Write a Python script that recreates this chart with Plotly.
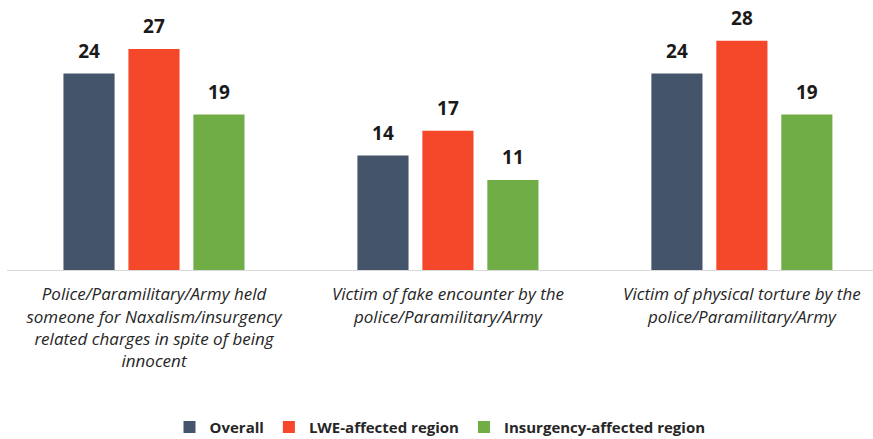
import plotly.graph_objects as go

categories = [
    "Police/Paramilitary/Army held<br>someone for Naxalism/insurgency<br>related charges in spite of being<br>innocent",
    "Victim of fake encounter by the<br>police/Paramilitary/Army",
    "Victim of physical torture by the<br>police/Paramilitary/Army",
]
overall = [24, 14, 24]
lwe = [27, 17, 28]
insurgency = [19, 11, 19]

series = [
    ("Overall", overall, "#44546A"),
    ("LWE-affected region", lwe, "#F5472A"),
    ("Insurgency-affected region", insurgency, "#70AD47"),
]

font = "Open Sans, sans-serif"

fig = go.Figure()
for i, (name, vals, col) in enumerate(series):
    fig.add_trace(go.Bar(
        x=[0, 1, 2], y=vals, name="<b>" + name + "</b>",
        marker=dict(color=col, line=dict(width=0)),
        offsetgroup=str(i),
        cliponaxis=False,
    ))
for i, (name, vals, col) in enumerate(series):
    # value labels above the bars (invisible marker pushes text up)
    fig.add_trace(go.Scatter(
        x=[0, 1, 2], y=vals, mode="markers+text", offsetgroup=str(i),
        marker=dict(size=16, opacity=0),
        text=["<b>%d</b>" % v for v in vals], textposition="top center",
        textfont=dict(size=19, color="#1a1a1a", family=font),
        showlegend=False, hoverinfo="skip", cliponaxis=False,
    ))

fig.update_layout(
    width=873, height=439,
    margin=dict(l=7, r=0, t=8, b=169, autoexpand=False),
    plot_bgcolor="white", paper_bgcolor="white",
    barmode="group", bargap=0.337, bargroupgap=0.213,
    scattermode="group", scattergap=0.337,
    font=dict(family=font, color="#262626"),
    showlegend=True,
    legend=dict(orientation="h", x=0.5, xanchor="center", y=-0.6, yanchor="middle",
                font=dict(size=15, color="#262626"), itemwidth=30,
                traceorder="normal"),
)

fig.update_xaxes(
    tickmode="array", tickvals=[0, 1, 2],
    ticktext=["<i>" + c.replace("<br>", "</i><br><i>") + "</i>" for c in categories],
    range=[-0.5, 2.446], showline=True, linecolor="#d9d9d9", linewidth=1,
    ticks="", tickfont=dict(size=17, color="#262626"), showgrid=False,
    ticklabelstandoff=9, automargin=False,
)
fig.update_yaxes(range=[0, 32], visible=False, showgrid=False, automargin=False)

fig.write_html("out.html", config={"displayModeBar": False},
               post_script="document.body.style.margin='0';")
